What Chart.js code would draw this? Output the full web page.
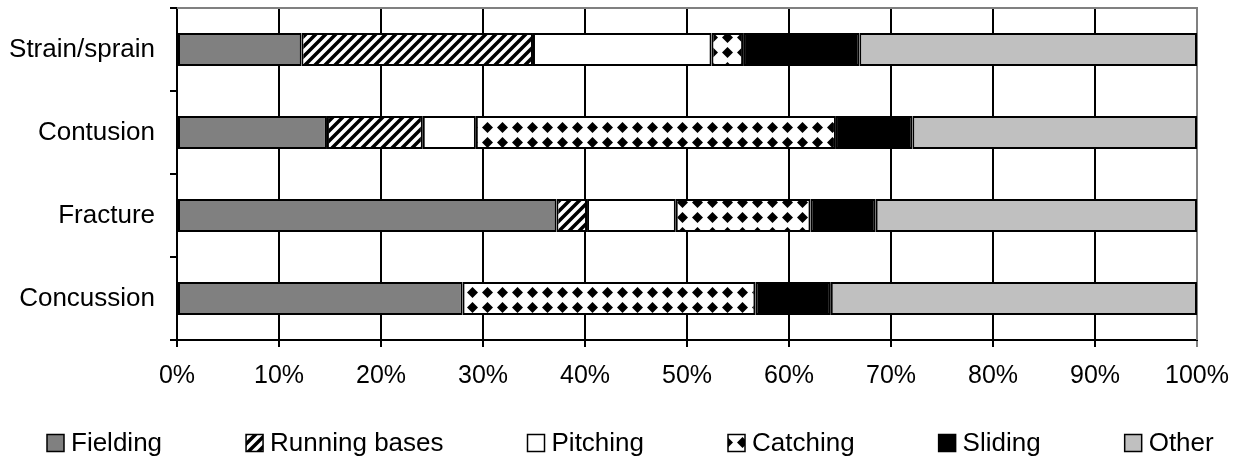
<!DOCTYPE html>
<html>
<head>
<meta charset="utf-8">
<title>Injury type by activity</title>
<script src="https://cdn.jsdelivr.net/npm/chart.js@4.4.0/dist/chart.umd.min.js"></script>
<style>
  html, body { margin: 0; padding: 0; background: #fff; }
  canvas { display: block; }
</style>
</head>
<body>
<canvas id="injuryChart" width="1243" height="460"></canvas>
<script>
// Data (percent of each injury type)
const categories = ['Strain/sprain', 'Contusion', 'Fracture', 'Concussion'];
const fielding = [12.2, 14.7, 37.2, 28.0];
const runningBases = [22.7, 9.4, 3.0, 0];
const pitching = [17.5, 5.2, 8.7, 0];
const catching = [3.1, 35.3, 13.2, 28.7];
const sliding = [11.4, 7.5, 6.4, 7.4];
const other = [33.1, 27.9, 31.5, 35.9];
const tickLabels = ['0%', '10%', '20%', '30%', '40%', '50%', '60%', '70%', '80%', '90%', '100%'];

const FONT = '"Liberation Sans", Arial, sans-serif';
Chart.defaults.font.family = FONT;
Chart.defaults.font.size = 25;
Chart.defaults.color = '#000';

const ctx = document.getElementById('injuryChart').getContext('2d');

// Fill patterns like the old office chart
function stripePattern() {
    const c = document.createElement('canvas');
    c.width = 10; c.height = 10;
    const g = c.getContext('2d');
    g.fillStyle = '#fff';
    g.fillRect(0, 0, 10, 10);
    g.strokeStyle = '#000';
    g.lineWidth = 3.5;
    g.beginPath();
    g.moveTo(-5, 5); g.lineTo(5, -5);
    g.moveTo(0, 10); g.lineTo(10, 0);
    g.moveTo(5, 15); g.lineTo(15, 5);
    g.stroke();
    return ctx.createPattern(c, 'repeat');
}

function diamondPattern() {
    const c = document.createElement('canvas');
    c.width = 15; c.height = 15;
    const g = c.getContext('2d');
    g.fillStyle = '#fff';
    g.fillRect(0, 0, 15, 15);
    g.fillStyle = '#000';
    g.beginPath();
    g.moveTo(7.5, 2); g.lineTo(13, 7.5); g.lineTo(7.5, 13); g.lineTo(2, 7.5);
    g.closePath();
    g.fill();
    return ctx.createPattern(c, 'repeat');
}

// Grey frame on top and right of the plot
const plotFrame = {
    id: 'plotFrame',
    beforeDatasetsDraw(chart) {
        const a = chart.chartArea;
        const g = chart.ctx;
        g.save();
        g.strokeStyle = '#808080';
        g.lineWidth = 2;
        g.beginPath();
        g.moveTo(a.left, a.top);
        g.lineTo(a.right, a.top);
        g.lineTo(a.right, a.bottom);
        g.stroke();
        g.restore();
    }
};

// Legend row spread out across the bottom
const legendRow = {
    id: 'legendRow',
    afterDraw(chart) {
        const g = chart.ctx;
        const box = 17, gapText = 7, gapItem = 84, y = 443;
        let x = 47;
        g.save();
        g.font = '26px ' + FONT;
        g.textBaseline = 'middle';
        chart.data.datasets.forEach(d => {
            g.fillStyle = d.backgroundColor;
            g.fillRect(x, y - box / 2, box, box);
            g.strokeStyle = '#000';
            g.lineWidth = 1.5;
            g.strokeRect(x, y - box / 2, box, box);
            g.fillStyle = '#000';
            g.fillText(d.label, x + box + gapText, y + 1);
            x += box + gapText + g.measureText(d.label).width + gapItem;
        });
        g.restore();
    }
};

function makeSet(label, data, fill) {
    return {
        label: label,
        data: data,
        backgroundColor: fill,
        borderColor: '#000',
        borderWidth: 2,
        borderSkipped: false,
        barPercentage: 0.4,
        categoryPercentage: 1
    };
}

const injuryChart = new Chart(ctx, {
    type: 'bar',
    data: {
        labels: categories,
        datasets: [
            makeSet('Fielding', fielding, '#808080'),
            makeSet('Running bases', runningBases, stripePattern()),
            makeSet('Pitching', pitching, '#ffffff'),
            makeSet('Catching', catching, diamondPattern()),
            makeSet('Sliding', sliding, '#000000'),
            makeSet('Other', other, '#c0c0c0')
        ]
    },
    options: {
        indexAxis: 'y',
        responsive: false,
        animation: false,
        layout: { padding: { top: 8, right: 46, bottom: 67, left: 0 } },
        plugins: {
            legend: { display: false },
            tooltip: { enabled: false }
        },
        scales: {
            x: {
                stacked: true,
                min: 0,
                max: 100,
                grid: {
                    color: c => (c.tick && c.tick.value === 100 ? '#808080' : '#000'),
                    lineWidth: 2,
                    tickLength: 7
                },
                border: { color: '#000', width: 2 },
                ticks: {
                    stepSize: 10,
                    padding: 14,
                    maxRotation: 0,
                    autoSkip: false,
                    callback: v => tickLabels[Math.round(v / 10)]
                },
                afterFit(s) { s.height = 53; }
            },
            y: {
                stacked: true,
                grid: {
                    drawOnChartArea: false,
                    offset: true,
                    color: '#000',
                    lineWidth: 2,
                    tickLength: 7
                },
                border: { color: '#000', width: 2 },
                ticks: { padding: 15, font: { size: 26 } },
                afterFit(s) {
                    s.width = 177;
                    s.paddingTop = 0;
                    s.paddingBottom = 0;
                }
            }
        }
    },
    plugins: [plotFrame, legendRow]
});
</script>
</body>
</html>
